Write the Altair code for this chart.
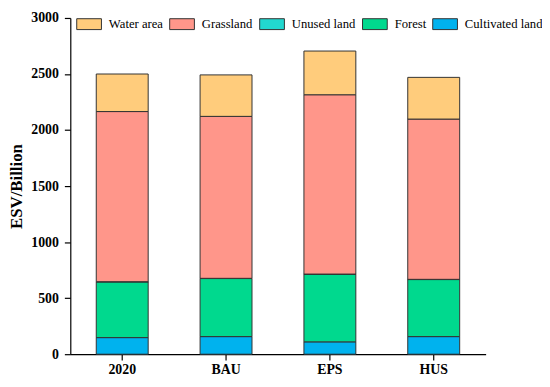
import altair as alt
import pandas as pd

scenarios = ["2020", "BAU", "EPS", "HUS"]
types = ["Cultivated land", "Forest", "Unused land", "Grassland", "Water area"]
cultivated = [148, 157, 110, 157]
forest = [497, 518, 603, 509]
unused = [2, 2, 2, 2]
grassland = [1518, 1445, 1600, 1430]
water = [335, 370, 390, 372]

legend_order = ["Water area", "Grassland", "Unused land", "Forest", "Cultivated land"]
colors = {"Water area": "#FFCC7C", "Grassland": "#FF968A", "Unused land": "#22D8D0",
          "Forest": "#00D98E", "Cultivated land": "#00B2EE"}

series = [cultivated, forest, unused, grassland, water]
rows = []
for t_i, (t, vals) in enumerate(zip(types, series)):
    for s, v in zip(scenarios, vals):
        rows.append({"scenario": s, "type": t, "value": v, "order": t_i})
df = pd.DataFrame(rows)

FONT = "Liberation Serif"

chart = alt.Chart(df).mark_bar(stroke="#333333", strokeWidth=1).encode(
    x=alt.X("scenario:N", sort=scenarios,
            scale=alt.Scale(paddingInner=0.5, paddingOuter=0.25),
            axis=alt.Axis(title=None, labelAngle=0, labelFont=FONT, labelFontSize=14,
                          labelFontWeight="bold", labelColor="black", domainColor="black",
                          tickColor="black", tickSize=6, labelPadding=3)),
    y=alt.Y("value:Q", stack="zero",
            scale=alt.Scale(domain=[0, 3000], nice=False),
            axis=alt.Axis(title="ESV/Billion", values=[0, 500, 1000, 1500, 2000, 2500, 3000],
                          format="d",
                          grid=False, labelFont=FONT, labelFontSize=14, labelFontWeight="bold",
                          labelColor="black", domainColor="black", tickColor="black",
                          tickSize=6, labelPadding=6, titleFont=FONT, titleFontSize=17,
                          titleFontWeight="bold", titleColor="black", titlePadding=5)),
    color=alt.Color("type:N", sort=legend_order,
                    scale=alt.Scale(domain=legend_order,
                                    range=[colors[k] for k in legend_order]),
                    legend=alt.Legend(title=None, orient="none", direction="horizontal",
                                      legendX=6, legendY=-7, padding=0,
                                      labelFont=FONT, labelFontSize=12.8,
                                      labelColor="black",
                                      symbolType="M-1,-0.44h2v0.88h-2z", symbolSize=625,
                                      symbolStrokeColor="#333333", symbolStrokeWidth=1,
                                      symbolOpacity=1, columnPadding=4, labelOffset=7)),
    order=alt.Order("order:Q", sort="ascending"),
).properties(
    width=420, height=340,
    autosize=alt.AutoSizeParams(type="none"),
    padding={"left": 63, "top": 8, "right": 57, "bottom": 23},
).configure_view(stroke=None).configure_axis(domainWidth=1.2, tickWidth=1.2)

chart.save("out.html", embed_options={"renderer": "svg", "actions": False})
